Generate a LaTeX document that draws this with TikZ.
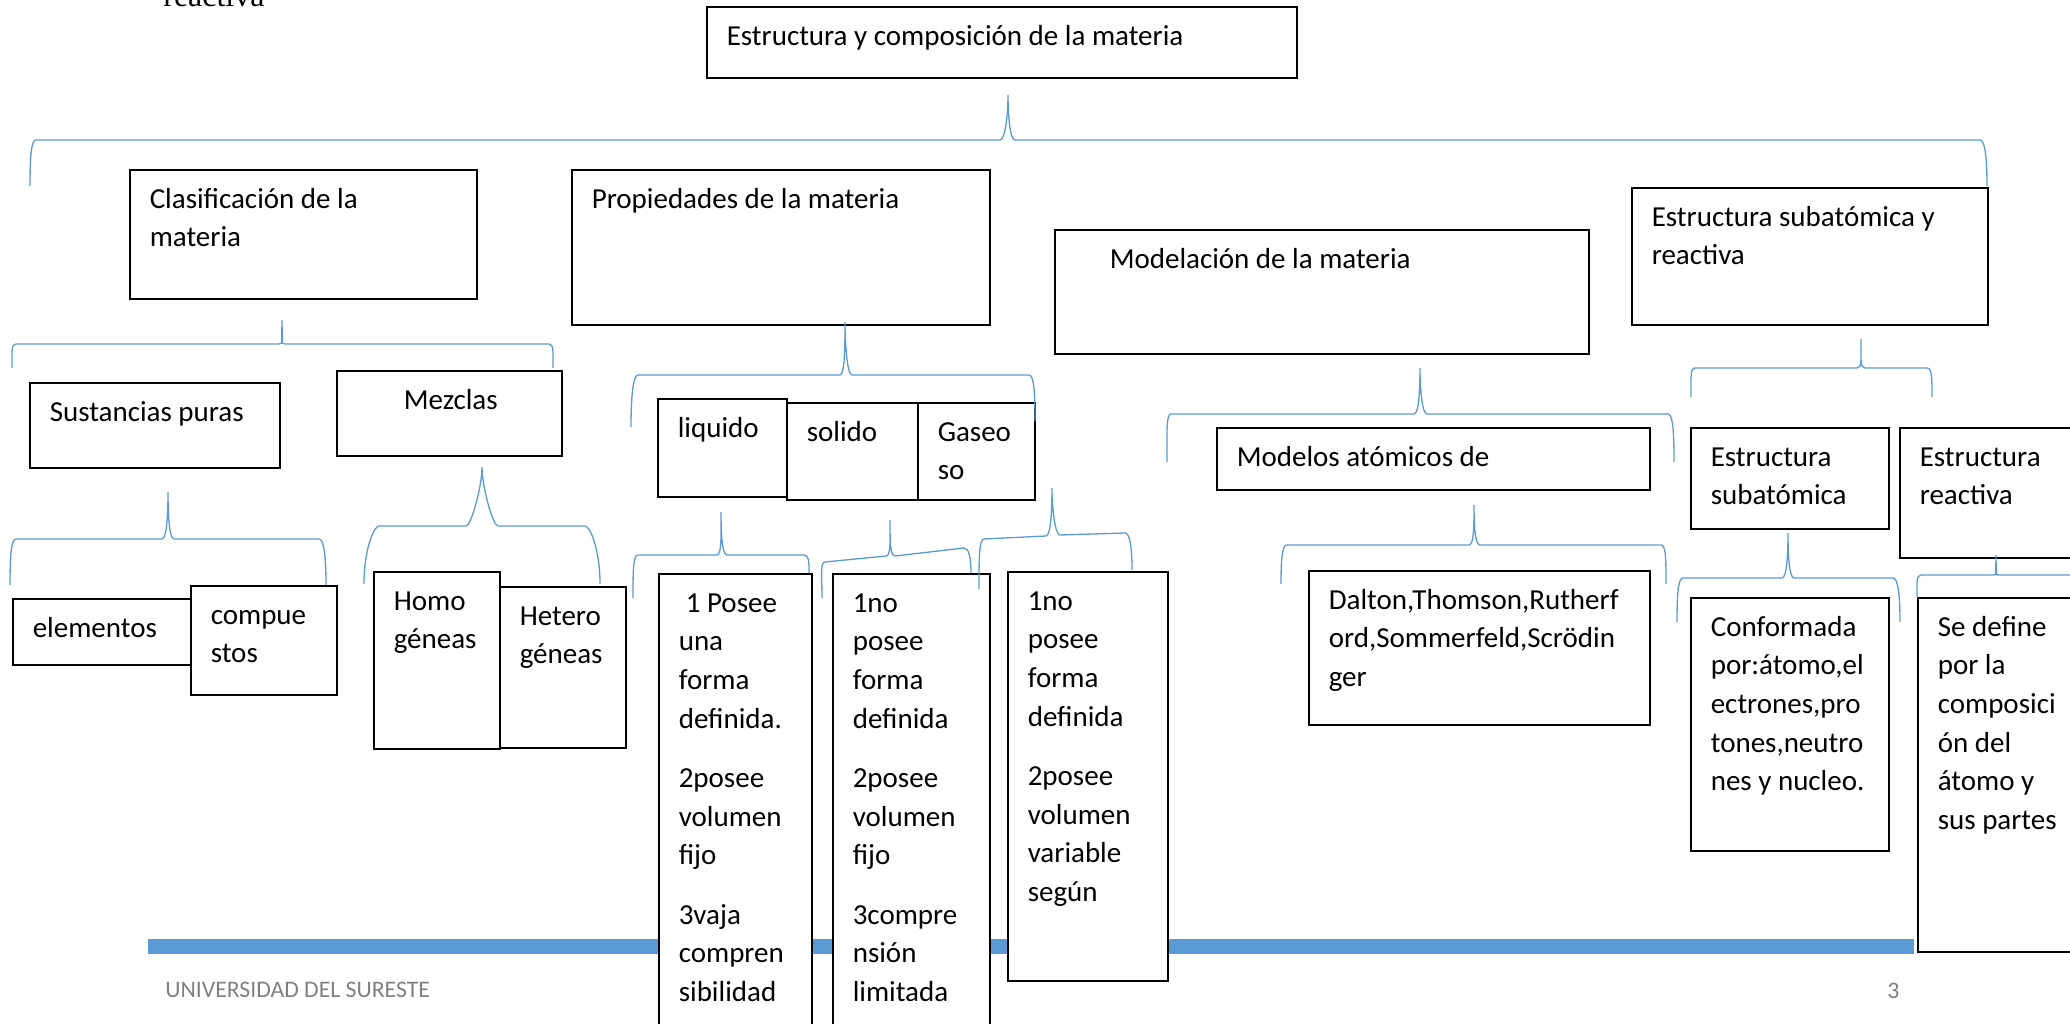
\documentclass[tikz,border=0pt]{standalone}
\usepackage{fontspec}
\setmainfont{Carlito}
\newfontfamily\serifa{Liberation Serif}
\usepackage{xcolor}
\usetikzlibrary{positioning}

\definecolor{azul}{RGB}{91,155,213}
\definecolor{grispie}{RGB}{128,128,128}

% one pixel of the page
\newdimen\pix \pix=0.02cm
\newcommand{\texto}{\fontsize{16.5}{21.96}\selectfont}
% box text: width, height, lines
\newcommand{\contenido}[3]{\parbox[t][#2\pix][t]{#1\pix}{\raggedright\leftskip=20\pix\rule{0pt}{38.5\pix}#3}}
% curly bracket: left end, left corner, cusp left, tip, cusp right, right corner, right end
\newcommand{\llave}[9]{\draw[llave] (#1) .. controls +(0,-#8) and +(-5,0) .. (#2) -- (#3)
  .. controls +(5,0) and +(0,20) .. (#4) .. controls +(0,20) and +(-5,0) .. (#5) -- (#6)
  .. controls +(5,0) and +(0,-#9) .. (#7);}

\tikzset{
  caja/.style={draw, line width=0.9pt, fill=white, inner sep=0pt, anchor=north west, font=\texto},
  llave/.style={draw=azul, line width=0.75pt},
  pie/.style={text=grispie, font=\fontsize{13.5}{16}\selectfont, inner sep=0pt, anchor=base west}
}

\begin{document}
\begin{tikzpicture}[x=0.02cm, y=-0.02cm]
  \useasboundingbox (0,0) rectangle (2070,1024);
  \clip (0,0) rectangle (2070,1024);

  % Draw page footer
  \node[font=\serifa\fontsize{18.2}{20}\selectfont, inner sep=0pt, anchor=base west] (resto) at (163,7) {reactiva};
  \fill[azul] (148,939) rectangle (1914,954);
  \node[pie] (univ) at (165,997) {UNIVERSIDAD DEL SURESTE};
  \node[pie] (pag) at (1887,998) {3};

  % Draw top level
  \node[caja] (raiz) at (706,6) {\contenido{590}{71}{Estructura y composición de la materia}};
  \node[caja] (clas) at (129,169) {\contenido{347}{129}{Clasificación de la\\materia}};
  \node[caja] (prop) at (571,169) {\contenido{418}{155}{Propiedades de la materia}};
  \node[caja] (mode) at (1054,229) {\contenido{534}{124}{\hspace*{35\pix}Modelación de la materia}};
  \node[caja] (subr) at (1631,187) {\contenido{356}{137}{Estructura subatómica y\\reactiva}};

  % Draw second level
  \node[caja] (sust) at (29,382) {\contenido{250}{85}{Sustancias puras}};
  \node[caja] (mezc) at (336,370) {\contenido{225}{85}{\hspace*{47\pix}Mezclas}};
  \node[caja] (liqu) at (657,398) {\contenido{129}{98}{liquido}};
  \node[caja] (soli) at (786,402) {\contenido{131}{97}{solido}};
  \node[caja] (gase) at (917,402) {\contenido{117}{97}{Gaseo\\so}};
  \node[caja] (mato) at (1216,427) {\contenido{433}{62}{Modelos atómicos de}};
  \node[caja] (esub) at (1690,427) {\contenido{198}{101}{Estructura\\subatómica}};
  \node[caja] (erea) at (1899,427) {\contenido{200}{130}{Estructura\\reactiva}};

  % Draw third level
  \node[caja] (elem) at (12,598) {\contenido{178}{66}{elementos}};
  \node[caja] (comp) at (190,585) {\contenido{146}{109}{compue\\stos}};
  \node[caja] (homo) at (373,571) {\contenido{126}{177}{Homo\\géneas}};
  \node[caja] (hete) at (499,586) {\contenido{126}{161}{Hetero\\géneas}};
  \node[caja] (pliq) at (658,573) {\contenido{153}{470}{\hspace*{7\pix}1 Posee\\una\\forma\\definida.\\[21\pix]2posee\\volumen\\fijo\\[21\pix]3vaja\\compren\\sibilidad}};
  \node[caja] (psol) at (832,573) {\contenido{157}{470}{1no\\posee\\forma\\definida\\[21\pix]2posee\\volumen\\fijo\\[21\pix]3compre\\nsión\\limitada}};
  \node[caja] (pgas) at (1007,571) {\contenido{160}{409}{1no\\posee\\forma\\definida\\[21\pix]2posee\\volumen\\variable\\según}};
  \node[caja] (dalt) at (1308,570) {\contenido{341}{154}{Dalton,Thomson,Rutherf\\ord,Sommerfeld,Scrödin\\ger}};
  \node[caja] (conf) at (1690,597) {\contenido{198}{253}{Conformada\\por:átomo,el\\ectrones,pro\\tones,neutro\\nes y nucleo.}};
  \node[caja] (sdef) at (1917,597) {\contenido{200}{354}{Se define\\por la\\composici\\ón del\\átomo y\\sus partes}};

  % Draw brackets
  \llave{30,186}{36,140}{1000,140}{1008,95}{1015,140}{1980,140}{1987,186}{28}{28}
  \llave{12,368}{16,344}{279,344}{282,320}{285,344}{549,344}{553,368}{15}{15}
  \llave{631,427}{638,375}{840,375}{845,322}{852,375}{1029,375}{1035,421}{30}{28}
  \llave{10,585}{16,539}{162,539}{168,492}{174,539}{319,539}{326,585}{28}{28}
  \llave{364,584}{379,526}{466,526}{482,467}{498,526}{585,526}{600,584}{35}{35}
  \llave{633,598}{638,555}{717,555}{721,512}{727,555}{804,555}{809,573}{26}{11}
  \llave{822,598}{825,562}{886,556}{890,520}{895,556}{964,548}{971,573}{22}{15}
  \llave{979,589}{984,539}{1046,536}{1052,488}{1060,535}{1125,533}{1132,570}{30}{22}
  \llave{1167,462}{1171,414}{1414,414}{1420,368}{1427,414}{1668,414}{1674,462}{29}{29}
  \llave{1281,584}{1287,545}{1469,545}{1474,505}{1480,545}{1661,545}{1666,584}{24}{24}
  \llave{1691,397}{1695,368}{1857,368}{1861,339}{1865,368}{1927,368}{1932,397}{18}{18}
  \llave{1677,622}{1683,578}{1782,578}{1788,533}{1794,578}{1893,578}{1900,622}{27}{27}
  \llave{1917,597}{1921,575}{1993,575}{1996,555}{1999,575}{2085,575}{2090,597}{13}{13}
\end{tikzpicture}
\end{document}
